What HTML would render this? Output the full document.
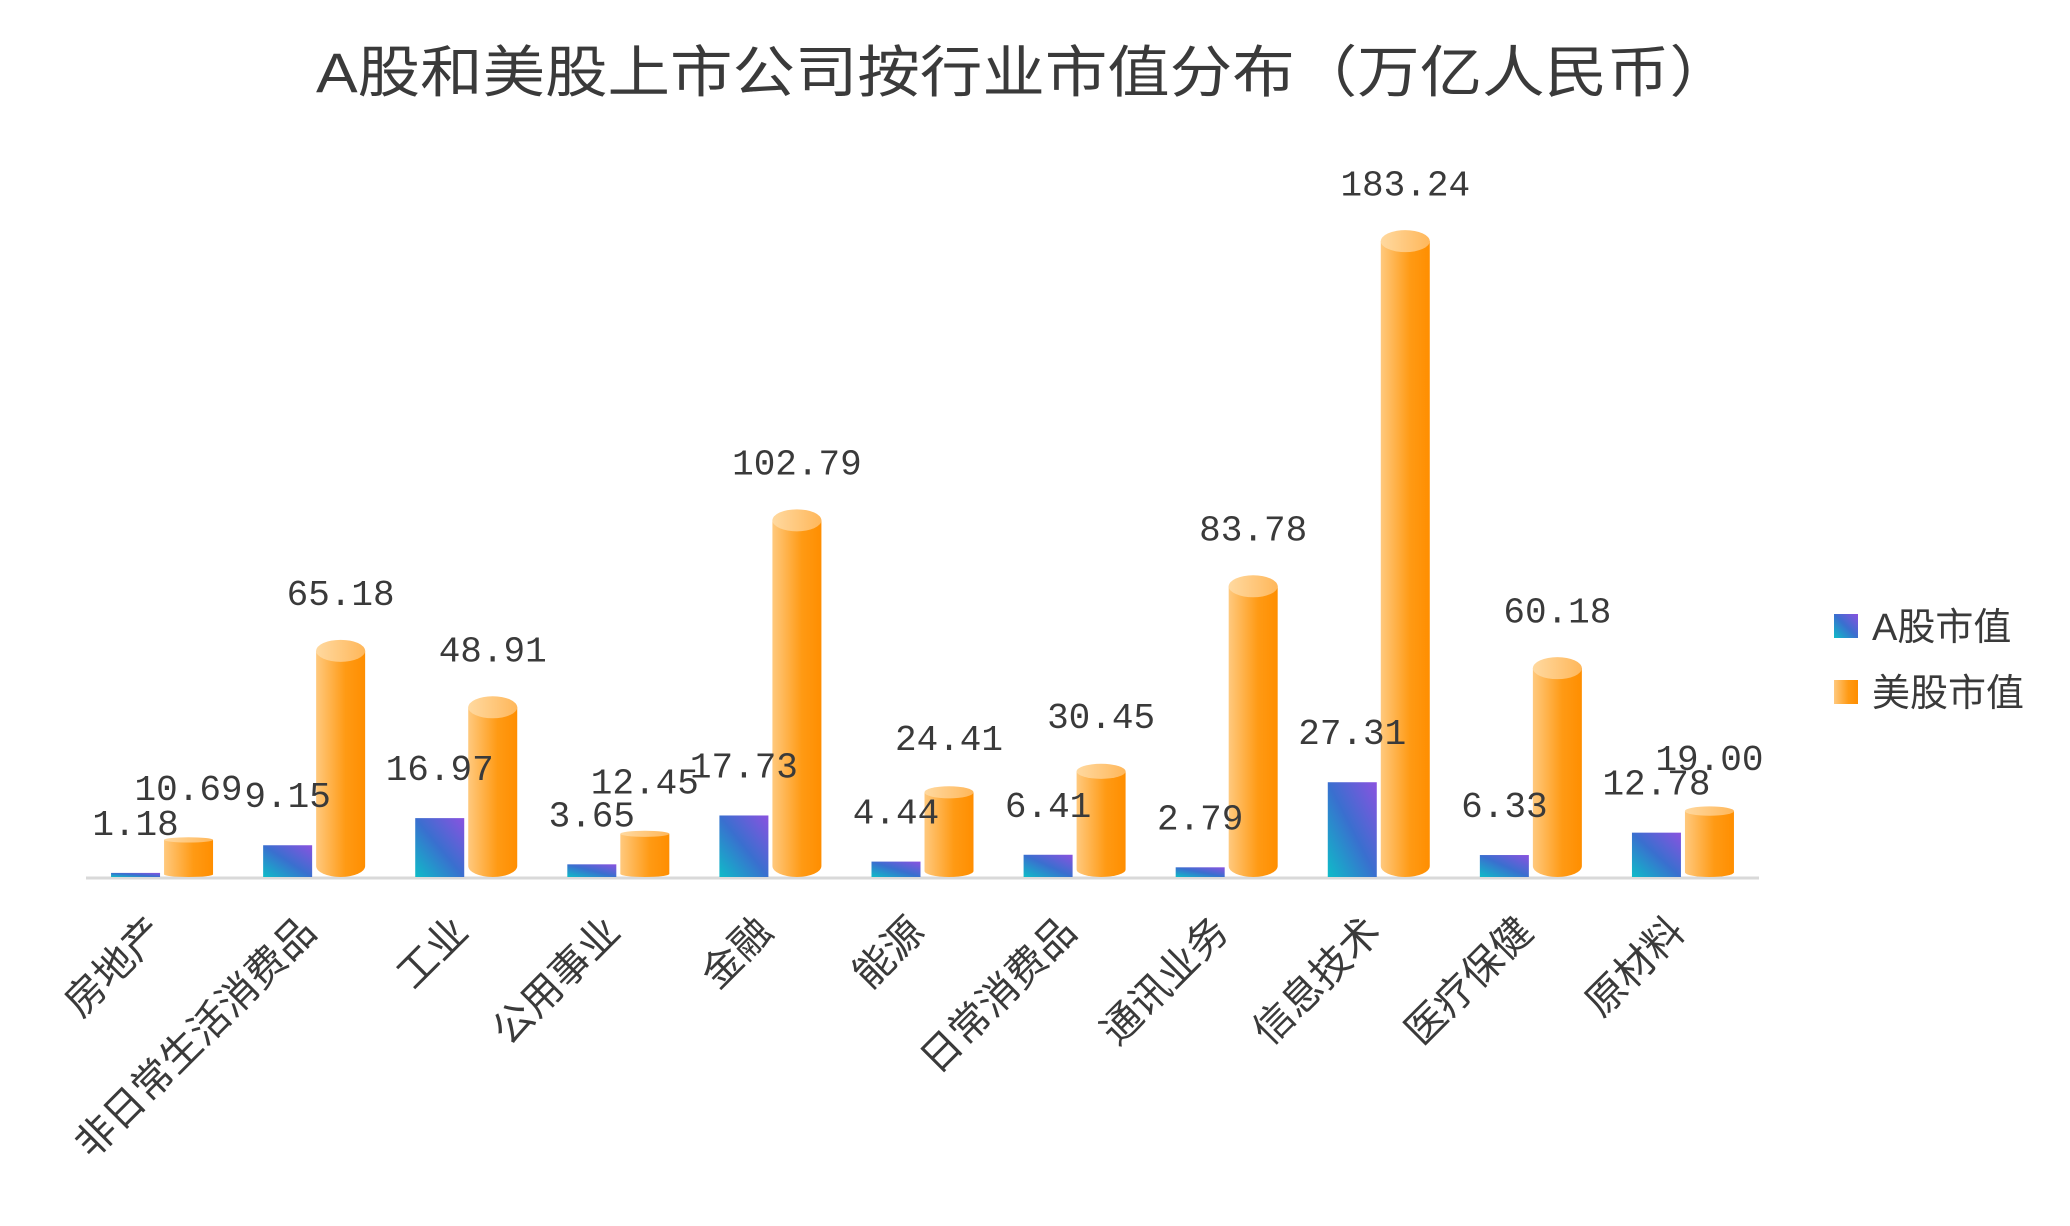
<!DOCTYPE html>
<html><head><meta charset="utf-8"><style>
html,body{margin:0;padding:0;background:#fff;}
svg text{font-family:"Liberation Sans","Noto Sans CJK SC",sans-serif;fill:#3a3a3a;}
.num{font-family:"Liberation Mono","Noto Sans CJK SC",monospace;}
</style></head><body>
<svg id="chart" width="2070" height="1221" viewBox="0 0 2070 1221" xmlns="http://www.w3.org/2000/svg">
<defs>
<linearGradient id="gA" x1="0" y1="1" x2="1" y2="0"><stop offset="0" stop-color="#0fbcc8"/><stop offset="0.5" stop-color="#3a6fcf"/><stop offset="1" stop-color="#8a52e0"/></linearGradient>
<linearGradient id="gU" x1="0" y1="0" x2="1" y2="0"><stop offset="0" stop-color="#ffc97e"/><stop offset="0.6" stop-color="#ff9a14"/><stop offset="1" stop-color="#ff8e00"/></linearGradient>
<linearGradient id="gT" x1="0" y1="0" x2="1" y2="0"><stop offset="0" stop-color="#ffd9a0"/><stop offset="1" stop-color="#ffb75a"/></linearGradient>
</defs>
<text x="1024" y="92" font-size="56" text-anchor="middle" textLength="1416" lengthAdjust="spacingAndGlyphs">A股和美股上市公司按行业市值分布（万亿人民币）</text>
<line x1="86" y1="878" x2="1759" y2="878" stroke="#d9d9d9" stroke-width="3"/>
<g id="bars"></g>
<g>
<rect x="1834" y="614" width="24" height="24" fill="url(#gA)"/>
<text x="1872" y="640" font-size="38">A股市值</text>
<rect x="1834" y="680" width="24" height="24" fill="url(#gU)"/>
<text x="1872" y="706" font-size="38">美股市值</text>
</g>
</svg>
<script>
const categories = ["房地产","非日常生活消费品","工业","公用事业","金融","能源","日常消费品","通讯业务","信息技术","医疗保健","原材料"];
const aValues = [1.18,9.15,16.97,3.65,17.73,4.44,6.41,2.79,27.31,6.33,12.78];
const usValues = [10.69,65.18,48.91,12.45,102.79,24.41,30.45,83.78,183.24,60.18,19.00];
const NS="http://www.w3.org/2000/svg";
const x0=86,x1=1759,base=877,k=3.47,bw=49,gap=4;
const step=(x1-x0)/categories.length;
const xc=i=>x0+step*(i+0.5);
const y=v=>base-v*k;
const g=document.getElementById('bars');
function mk(t,a){const e=document.createElementNS(NS,t);for(const n in a)e.setAttribute(n,a[n]);return e;}
categories.forEach((c,i)=>{
  const cx=xc(i);
  const ax=cx-gap/2-bw, ux=cx+gap/2;
  const ra=mk('rect',{x:ax,y:y(aValues[i]),width:bw,height:base-y(aValues[i]),fill:'url(#gA)'});
  
  
  g.appendChild(ra);
  const ut=y(usValues[i]);
  const ry=Math.max(2,Math.min(11,(base-ut)/14));
  const cyl=mk('path',{d:`M${ux},${ut} L${ux},${base-ry} A${bw/2},${ry} 0 0 0 ${ux+bw},${base-ry} L${ux+bw},${ut} Z`,fill:'url(#gU)'});
  
  
  g.appendChild(cyl);
  const top=mk('ellipse',{cx:ux+bw/2,cy:ut,rx:bw/2,ry:ry,fill:'url(#gT)'});
  
  
  g.appendChild(top);
  const la=mk('text',{x:ax+bw/2,y:y(aValues[i])-38,'font-size':36,'text-anchor':'middle',class:'num'});
  la.textContent=aValues[i].toFixed(2);
  
  
  g.appendChild(la);
  const lu=mk('text',{x:ux+bw/2,y:ut-38-ry*0.7,'font-size':36,'text-anchor':'middle',class:'num'});
  lu.textContent=usValues[i].toFixed(2);
  
  
  g.appendChild(lu);
  const cl=mk('text',{x:0,y:0,'font-size':40,'text-anchor':'end',transform:`translate(${cx+4},${934}) rotate(-45)`});
  cl.textContent=c;
  
  
  g.appendChild(cl);
});
</script>
</body></html>
